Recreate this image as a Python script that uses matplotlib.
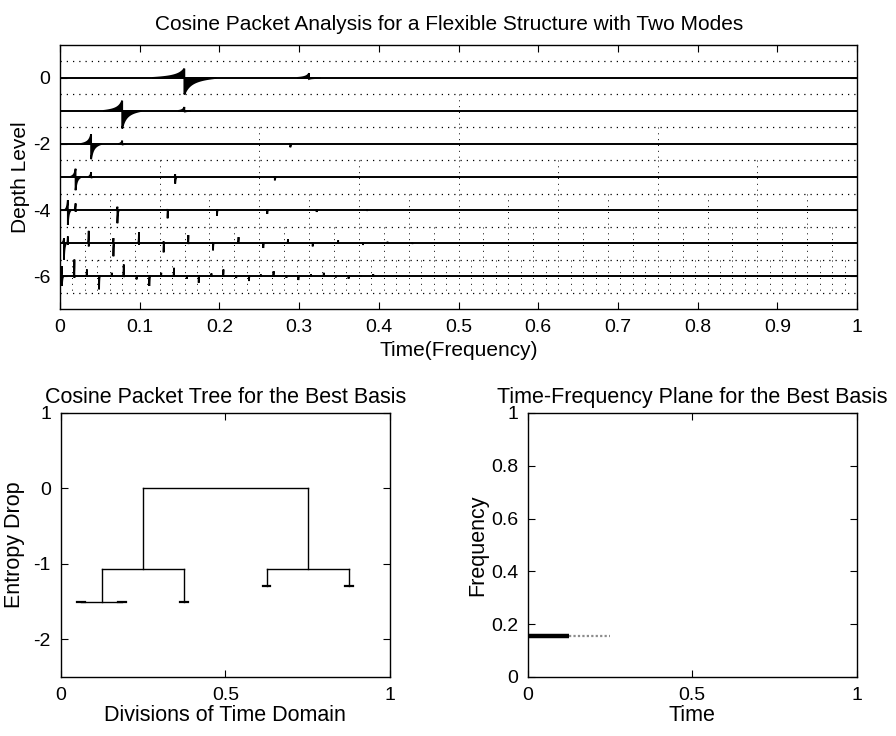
import numpy as np
import matplotlib

matplotlib.use("Agg")
import matplotlib.pyplot as plt

plt.rcParams["font.family"] = ["Liberation Sans", "DejaVu Sans"]

# top panel: cosine packet coefficients, one row per depth level
# each spike: position, upward peak, downward peak, spread
LEVEL0_POS = [0.156, 0.3125]
LEVEL0_UP = [0.28, 0.14]
LEVEL0_DOWN = [0.50, 0.03]
LEVEL0_WIDTH = [0.04, 0.015]

LEVEL1_POS = [0.078, 0.156]
LEVEL1_UP = [0.31, 0.12]
LEVEL1_DOWN = [0.53, 0.03]
LEVEL1_WIDTH = [0.024, 0.008]

LEVEL2_POS = [0.039, 0.078, 0.289]
LEVEL2_UP = [0.29, 0.10, 0.02]
LEVEL2_DOWN = [0.46, 0.03, 0.10]
LEVEL2_WIDTH = [0.013, 0.005, 0.002]

LEVEL3_POS = [0.0195, 0.039, 0.1445, 0.2695]
LEVEL3_UP = [0.25, 0.15, 0.08, 0.02]
LEVEL3_DOWN = [0.40, 0.03, 0.20, 0.10]
LEVEL3_WIDTH = [0.007, 0.004, 0.002, 0.002]

LEVEL4_POS = [0.0098, 0.0195, 0.072, 0.135, 0.197, 0.26, 0.322, 0.385]
LEVEL4_UP = [0.30, 0.20, 0.10, 0.03, 0.02, 0.02, 0.01, 0.01]
LEVEL4_DOWN = [0.45, 0.05, 0.40, 0.25, 0.18, 0.12, 0.06, 0.03]
LEVEL4_WIDTH = [0.004, 0.002, 0.002, 0.001, 0.001, 0.001, 0.001, 0.001]

LEVEL5_POS = [0.0049, 0.0098, 0.036, 0.067, 0.099, 0.130, 0.161, 0.192,
              0.224, 0.255, 0.286, 0.317, 0.349, 0.380, 0.411, 0.442]
LEVEL5_UP = [0.15, 0.20, 0.37, 0.15, 0.33, 0.05, 0.24, 0.03,
             0.18, 0.02, 0.12, 0.02, 0.08, 0.01, 0.04, 0.01]
LEVEL5_DOWN = [0.50, 0.05, 0.10, 0.40, 0.05, 0.28, 0.03, 0.22,
               0.02, 0.15, 0.02, 0.10, 0.01, 0.06, 0.01, 0.03]
LEVEL5_WIDTH = [0.003] + [0.001] * 15

LEVEL6_POS = [0.0024, 0.018, 0.0337, 0.049, 0.065, 0.080, 0.096, 0.112,
              0.127, 0.143, 0.159, 0.174, 0.190, 0.205, 0.221, 0.237,
              0.252, 0.268, 0.284, 0.299, 0.315, 0.331, 0.346, 0.362,
              0.377, 0.393]
LEVEL6_UP = [0.30, 0.50, 0.20, 0.02, 0.10, 0.35, 0.01, 0.02,
             0.10, 0.25, 0.01, 0.02, 0.08, 0.20, 0.01, 0.01,
             0.05, 0.15, 0.01, 0.01, 0.05, 0.10, 0.01, 0.01,
             0.03, 0.06]
LEVEL6_DOWN = [0.30, 0.05, 0.02, 0.40, 0.01, 0.03, 0.10, 0.30,
               0.01, 0.02, 0.08, 0.20, 0.01, 0.02, 0.06, 0.15,
               0.01, 0.01, 0.05, 0.12, 0.01, 0.01, 0.04, 0.08,
               0.01, 0.01]
LEVEL6_WIDTH = [0.002] + [0.001] * 25

LEVELS = [
    (LEVEL0_POS, LEVEL0_UP, LEVEL0_DOWN, LEVEL0_WIDTH),
    (LEVEL1_POS, LEVEL1_UP, LEVEL1_DOWN, LEVEL1_WIDTH),
    (LEVEL2_POS, LEVEL2_UP, LEVEL2_DOWN, LEVEL2_WIDTH),
    (LEVEL3_POS, LEVEL3_UP, LEVEL3_DOWN, LEVEL3_WIDTH),
    (LEVEL4_POS, LEVEL4_UP, LEVEL4_DOWN, LEVEL4_WIDTH),
    (LEVEL5_POS, LEVEL5_UP, LEVEL5_DOWN, LEVEL5_WIDTH),
    (LEVEL6_POS, LEVEL6_UP, LEVEL6_DOWN, LEVEL6_WIDTH),
]

TOP_XTICKS = [0, 0.1, 0.2, 0.3, 0.4, 0.5, 0.6, 0.7, 0.8, 0.9, 1.0]
TOP_XTICK_LABELS = ["0", "0.1", "0.2", "0.3", "0.4", "0.5",
                    "0.6", "0.7", "0.8", "0.9", "1"]
TOP_YTICKS = [0, -2, -4, -6]

# bottom left: best basis tree (node centre, bar height, half span)
NODE_X = [0.5, 0.25, 0.75, 0.125]
NODE_H = [0.0, -1.07, -1.07, -1.5]
NODE_HALF = [0.25, 0.125, 0.125, 0.0625]
LEAF_X = [0.0625, 0.1875, 0.375, 0.625, 0.875]
LEAF_H = [-1.5, -1.5, -1.5, -1.3, -1.3]

# bottom right: time-frequency tiles of the best basis
TILE_FREQ = 0.156
TILE_STRONG = [0.0, 0.125]
TILE_WEAK = [0.125, 0.25]


def _style_axes(ax) -> None:
    """
    MATLAB-like box with inward ticks on every side.
    """
    ax.tick_params(direction="in", top=True, right=True, length=5,
                   width=0.8, labelsize=14, pad=7)
    for spine in ax.spines.values():
        spine.set_linewidth(1.0)


def _spike(ax, base, pos, up, down, width) -> None:
    """
    Draw one coefficient burst as a filled polygon around the baseline.
    """
    t = np.linspace(0.0, 1.0, 60)
    prof = (1 / (1 + 4 * t) - 0.2) / 0.8
    xl = pos - width * t[::-1]
    yl = base + up * prof[::-1]
    xr = pos + width * t
    yr = base - down * prof
    xs = np.concatenate([[pos - width], xl, xr, [pos + width]])
    ys = np.concatenate([[base], yl, yr, [base]])
    ax.fill(xs, ys, color="black", lw=1.3)


def draw_packets(ax) -> None:
    for d in range(len(LEVELS)):
        base = -d
        ax.axhline(base, color="black", lw=1.4)
        ax.axhline(base + 0.5, color="black", lw=0.9, ls=(0, (1, 4)))
        if d > 0:
            n = 2 ** d
            for k in range(1, n):
                ax.plot([k / n, k / n], [base + 0.5, base - 0.5],
                        color="black", lw=0.7, ls=(0, (1, 5)))
        pos, up, down, width = LEVELS[d]
        for p, u, w_down, w in zip(pos, up, down, width):
            _spike(ax, base, p, u, w_down, w)
    ax.axhline(-len(LEVELS) + 0.5, color="black", lw=0.9, ls=(0, (1, 4)))

    ax.set_xlim(0, 1)
    ax.set_ylim(-7, 1)
    ax.set_xticks(TOP_XTICKS)
    ax.set_xticklabels(TOP_XTICK_LABELS)
    ax.set_yticks(TOP_YTICKS)
    ax.set_yticklabels([str(v) for v in TOP_YTICKS])
    ax.set_title("Cosine Packet Analysis for a Flexible Structure with Two Modes",
                 fontsize=15, pad=11, x=0.488)
    ax.set_xlabel("Time(Frequency)", fontsize=15, labelpad=4)
    ax.set_ylabel("Depth Level", fontsize=15, labelpad=2)


def draw_tree(ax) -> None:
    heights = dict(zip(NODE_X, NODE_H))
    heights.update(dict(zip(LEAF_X, LEAF_H)))
    for x, h, half in zip(NODE_X, NODE_H, NODE_HALF):
        xl, xr = x - half, x + half
        ax.plot([xl, xr], [h, h], color="black", lw=1.0)
        ax.plot([xl, xl], [h, heights[xl]], color="black", lw=1.0)
        ax.plot([xr, xr], [h, heights[xr]], color="black", lw=1.0)
    for x, h in zip(LEAF_X, LEAF_H):
        ax.plot([x - 0.012, x + 0.012], [h, h], color="black", lw=1.6)

    ax.set_xlim(0, 1)
    ax.set_ylim(-2.5, 1)
    ax.set_xticks([0, 0.5, 1])
    ax.set_xticklabels(["0", "0.5", "1"])
    ax.set_yticks([1, 0, -1, -2])
    ax.set_yticklabels(["1", "0", "-1", "-2"])
    ax.set_title("Cosine Packet Tree for the Best Basis", fontsize=15.5, pad=7)
    ax.set_xlabel("Divisions of Time Domain", fontsize=15.5, labelpad=1)
    ax.set_ylabel("Entropy Drop", fontsize=15.5, labelpad=6)


def draw_plane(ax) -> None:
    ax.plot(TILE_STRONG, [TILE_FREQ, TILE_FREQ], color="black", lw=3.2,
            solid_capstyle="butt")
    ax.plot(TILE_WEAK, [TILE_FREQ, TILE_FREQ], color="#8c8c8c", lw=1.6,
            ls=(0, (1, 1)))

    ax.set_xlim(0, 1)
    ax.set_ylim(0, 1)
    ax.set_xticks([0, 0.5, 1])
    ax.set_xticklabels(["0", "0.5", "1"])
    ax.set_yticks([0, 0.2, 0.4, 0.6, 0.8, 1])
    ax.set_yticklabels(["0", "0.2", "0.4", "0.6", "0.8", "1"])
    ax.set_title("Time-Frequency Plane for the Best Basis", fontsize=15.5, pad=7)
    ax.set_xlabel("Time", fontsize=15.5, labelpad=1)
    ax.set_ylabel("Frequency", fontsize=15.5, labelpad=2)


def main() -> None:
    fig = plt.figure(figsize=(8.96, 7.36), dpi=100)
    ax_top = fig.add_axes([0.067, 0.580, 0.8895, 0.359])
    ax_tree = fig.add_axes([0.0677, 0.0802, 0.3676, 0.3587])
    ax_plane = fig.add_axes([0.589, 0.0802, 0.367, 0.3587])

    for ax in (ax_top, ax_tree, ax_plane):
        _style_axes(ax)

    draw_packets(ax_top)
    draw_tree(ax_tree)
    draw_plane(ax_plane)

    fig.savefig("out.png", dpi=100)


if __name__ == "__main__":
    main()
